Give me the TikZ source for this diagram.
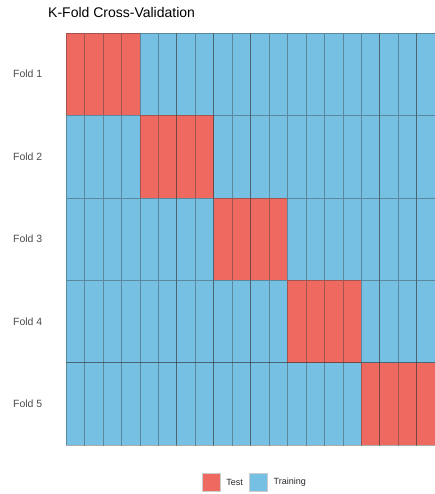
\documentclass[tikz,border=0pt]{standalone}
\usepackage{fontspec}
\setmainfont{Liberation Sans}
\usetikzlibrary{positioning}

\definecolor{testred}{HTML}{EE6A61}
\definecolor{trainblue}{HTML}{76C1E3}

\tikzset{
  cell/.style={
    rectangle,
    draw=black!80,
    draw opacity=0.4,
    line width=0.5pt,
    minimum width=18.45pt,
    minimum height=82.4pt,
    inner sep=0pt,
    outer sep=0pt
  },
  foldlabel/.style={
    anchor=east,
    inner sep=0pt,
    text=black!70,
    font=\fontsize{10.5}{12}\selectfont
  },
  key/.style={
    rectangle,
    draw=black!20,
    minimum size=18pt,
    inner sep=0pt
  },
  keytext/.style={
    inner sep=0pt,
    text=black!85,
    font=\fontsize{9}{11}\selectfont
  }
}

\begin{document}
\begin{tikzpicture}[x=1pt, y=-1pt]
  \useasboundingbox (0,0) rectangle (435,494);
  \node[anchor=base west, inner sep=0pt, font=\fontsize{14}{17}\selectfont] (title) at (48,17.7) {K-Fold Cross-Validation};

  % one row per fold, four test columns each
  \foreach \f in {1,...,5} {
    \node[foldlabel] (fold\f) at (42.5, {33+82.4*(\f-0.5)}) {Fold \f};
    \foreach \c in {1,...,20} {
      \pgfmathtruncatemacro{\blk}{(\c-1)/4+1}
      \ifnum\blk=\f \def\col{testred}\else\def\col{trainblue}\fi
      \node[cell, fill=\col] (cell\f-\c) at ({66+18.45*(\c-0.5)}, {33+82.4*(\f-0.5)}) {};
    }
  }

  % legend
  \node[key, fill=testred] (keytest) at (211,482.5) {};
  \node[keytext, right=6pt of keytest] (keytestlabel) {Test};
  \node[key, fill=trainblue, right=6pt of keytestlabel] (keytrain) {};
  \node[keytext, right=6pt of keytrain] (keytrainlabel) {Training};
\end{tikzpicture}
\end{document}
